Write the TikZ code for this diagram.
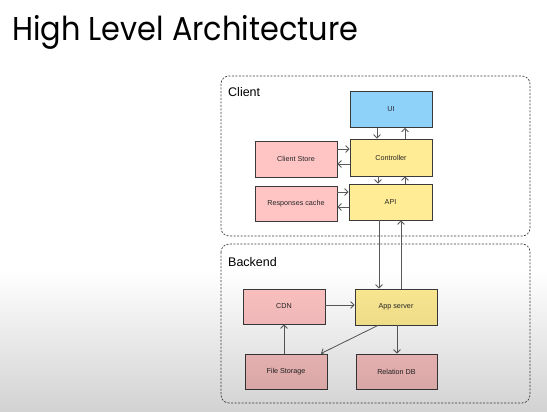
\documentclass[tikz,border=0pt]{standalone}
\usepackage{fontspec}
\setmainfont{Liberation Sans}
\newfontfamily\titlefont{Poppins}
\usetikzlibrary{arrows.meta}
\definecolor{uiblue}{HTML}{8ED1F9}
\definecolor{yel}{HTML}{FFEC94}
\definecolor{pinkc}{HTML}{FFC4C4}
\definecolor{strk}{HTML}{3A3A3A}
\definecolor{arrc}{HTML}{5A5A5A}
\definecolor{shadeend}{HTML}{D2D2D2}
\tikzset{
  box/.style={draw=strk, line width=0.8pt, minimum width=82pt, minimum height=36pt, inner sep=0pt, font=\fontsize{7.2}{8}\selectfont, text=black!85},
  grp/.style={draw=black!75, dashed, dash pattern=on 2pt off 1.5pt, line width=0.7pt, rounded corners=8pt},
  arr/.style={draw=arrc, line width=0.8pt, -{Straight Barb[length=3.5pt,width=7pt]}},
  grplabel/.style={anchor=west, inner sep=0pt, font=\fontsize{12.5}{14}\selectfont, text=black}
}
\begin{document}
\begin{tikzpicture}[x=1pt,y=-1pt]
\useasboundingbox (0,0) rectangle (547,412);
\fill[white] (0,0) rectangle (547,412);
\node[anchor=base west, inner sep=0pt, font=\titlefont\fontsize{33}{36}\selectfont] (title) at (12,41) {\scalebox{0.92}[1]{High Level Architecture}};

\draw[grp] (221,76) rectangle (530,236);
\draw[grp] (221,244) rectangle (530,403);
\node[grplabel] (clientlbl) at (228,92) {Client};
\node[grplabel] (backendlbl) at (228,262) {Backend};

\node[box, fill=uiblue] (ui) at (391,109.5) {UI};
\node[box, fill=yel, minimum height=37pt] (ctrl) at (391,157.5) {Controller};
\node[box, fill=pinkc] (store) at (296,159) {Client Store};
\node[box, fill=pinkc, minimum height=35pt] (cache) at (296,203.5) {Responses cache};
\node[box, fill=yel, minimum width=83pt] (api) at (390.5,202) {API};

\node[box, fill=pinkc, minimum height=35pt] (cdn) at (284,306.5) {CDN};
\node[box, fill=yel] (app) at (396,307) {App server};
\node[box, fill=pinkc, minimum height=35pt] (files) at (286,371.5) {File Storage};
\node[box, fill=pinkc, minimum height=35pt, minimum width=81pt] (rdb) at (396.5,371.5) {Relation DB};

\draw[arr] (ui.south -| 377,0) -- (ctrl.north -| 377,0);
\draw[arr] (ctrl.north -| 405,0) -- (ui.south -| 405,0);
\draw[arr] (ctrl.south -| 378,0) -- (api.north -| 378,0);
\draw[arr] (api.north -| 405,0) -- (ctrl.south -| 405,0);
\draw[arr] (store.east |- 0,149) -- (ctrl.west |- 0,149);
\draw[arr] (ctrl.west |- 0,164) -- (store.east |- 0,164);
\draw[arr] (cache.east |- 0,192) -- (api.west |- 0,192);
\draw[arr] (api.west |- 0,207) -- (cache.east |- 0,207);
\draw[arr] (api.south -| 379,0) -- (app.north -| 379,0);
\draw[arr] (app.north -| 401,0) -- (api.south -| 401,0);

\draw[arr] (cdn.east |- 0,305) -- (app.west |- 0,305);
\draw[arr] (files.north -| 284,0) -- (cdn.south -| 284,0);
\draw[arr] (app.south -| 378,0) -- (321,353.5);
\draw[arr] (app.south -| 397,0) -- (rdb.north -| 397,0);

\begin{scope}[blend mode=multiply]
\shade[top color=white, bottom color=shadeend] (0,270) rectangle (547,412);
\end{scope}
\end{tikzpicture}
\end{document}
